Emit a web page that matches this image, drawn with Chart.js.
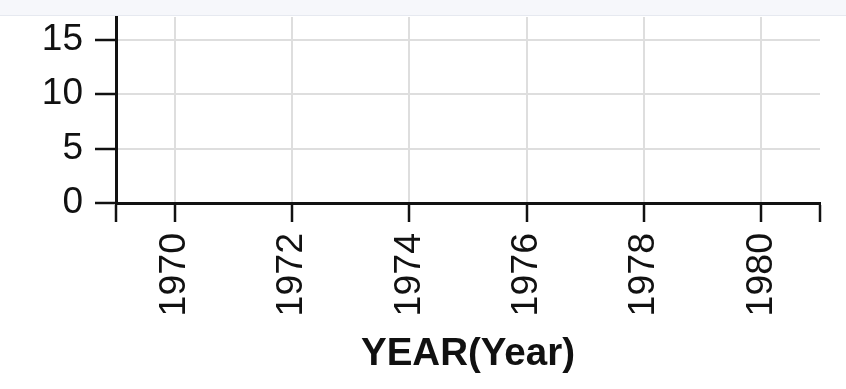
<!DOCTYPE html>
<html>
<head>
<meta charset="utf-8">
<script src="https://cdn.jsdelivr.net/npm/chart.js@4"></script>
<style>
  html, body { margin: 0; padding: 0; background: #fff; }
  #wrap { position: relative; width: 846px; height: 389px; }
  #bar { position: absolute; left: 0; top: 0; width: 846px; height: 15px; background: #f6f7fb; border-bottom: 1px solid #e6e9f0; z-index: 2; }
</style>
</head>
<body>
<div id="wrap">
  <div id="bar"></div>
  <canvas id="chart" width="846" height="389"></canvas>
</div>
<script>
// axis setup, the plot itself holds no points
var xTicks = [1970, 1972, 1974, 1976, 1978, 1980];
var xRange = [1969, 1981];
var yTicks = [0, 5, 10, 15];
var yRange = [0, 17.1];
var seriesValues = [];

var fontFamily = '"Liberation Sans", Arial, Helvetica, sans-serif';

var ctx = document.getElementById('chart').getContext('2d');
var chart = new Chart(ctx, {
    type: 'line',
    data: {
        datasets: [{
            label: 'YEAR',
            data: seriesValues,
            borderColor: '#000',
            pointRadius: 0
        }]
    },
    options: {
        responsive: false,
        animation: false,
        layout: { padding: { top: 17, right: 26, left: 0, bottom: 0 } },
        plugins: { legend: { display: false }, tooltip: { enabled: false } },
        scales: {
            x: {
                type: 'linear',
                min: xRange[0],
                max: xRange[1],
                afterBuildTicks: function (scale) {
                    scale.ticks = [xRange[0]].concat(xTicks, [xRange[1]]).map(v => ({ value: v }));
                },
                afterFit: function (scale) {
                    scale.height = 186;
                    scale.paddingLeft = 0;
                    scale.paddingRight = 0;
                },
                ticks: {
                    autoSkip: false,
                    minRotation: 90,
                    maxRotation: 90,
                    padding: 11,
                    color: '#111',
                    font: { family: fontFamily, size: 37.5 },
                    callback: function (value) {
                        return xTicks.includes(value) ? String(value) : '';
                    }
                },
                grid: {
                    color: c => (c.tick && (c.tick.value === xRange[0] || c.tick.value === xRange[1])) ? 'rgba(0,0,0,0)' : '#dedede',
                    lineWidth: 2,
                    tickColor: '#111',
                    tickWidth: 2.5,
                    tickLength: 19
                },
                border: { color: '#111', width: 3 },
                title: {
                    display: true,
                    text: 'YEAR(Year)',
                    color: '#111',
                    font: { family: fontFamily, size: 38.5, weight: 'bold' },
                    padding: { top: 0, bottom: 12 }
                }
            },
            y: {
                min: yRange[0],
                max: yRange[1],
                afterBuildTicks: function (scale) {
                    scale.ticks = yTicks.map(v => ({ value: v }));
                },
                afterFit: function (scale) {
                    scale.width = 116;
                    scale.paddingTop = 0;
                    scale.paddingBottom = 0;
                },
                ticks: {
                    padding: 12,
                    color: '#111',
                    font: { family: fontFamily, size: 37 },
                    callback: function (value) { return String(value); }
                },
                grid: {
                    color: '#dedede',
                    lineWidth: 2,
                    tickColor: '#111',
                    tickWidth: 2.5,
                    tickLength: 21
                },
                border: { color: '#111', width: 3 }
            }
        }
    }
});
</script>
</body>
</html>
